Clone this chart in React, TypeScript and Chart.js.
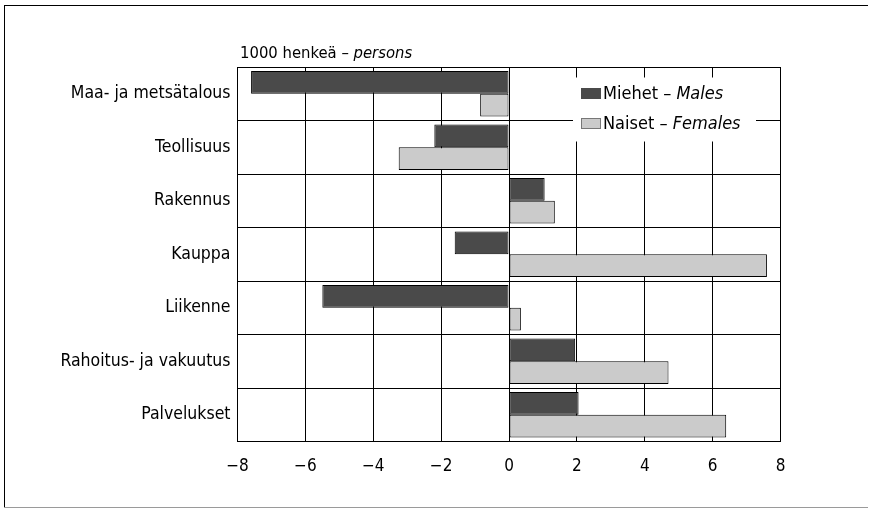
import React, { useEffect, useRef } from "react";
import { Chart, registerables } from "chart.js";

Chart.register(...registerables);

const categories = [
  "Maa- ja metsätalous",
  "Teollisuus",
  "Rakennus",
  "Kauppa",
  "Liikenne",
  "Rahoitus- ja vakuutus",
  "Palvelukset",
];
const males = [-7.6, -2.2, 1.05, -1.6, -5.5, 1.95, 2.05];
const females = [-0.85, -3.25, 1.35, 7.6, 0.35, 4.7, 6.4];
const xMin = -8;
const xMax = 8;
const xStep = 2;
const maleLabel = ["Miehet – ", "Males"];
const femaleLabel = ["Naiset – ", "Females"];
const unitLabel = ["1000 henkeä – ", "persons"];

const FONT = '"Liberation Sans Narrow", "Arial Narrow", "DejaVu Sans Condensed", sans-serif';
const DARK = "#4a4a4a";
const LIGHT = "#cbcbcb";

const framePlugin = {
  id: "frame",
  beforeDraw(chart: any) {
    const { ctx, width, height } = chart;
    ctx.save();
    ctx.fillStyle = "#fff";
    ctx.fillRect(0, 0, width, height);
    ctx.strokeStyle = "#000";
    ctx.lineWidth = 1;
    ctx.beginPath();
    ctx.moveTo(4.5, 5);
    ctx.lineTo(4.5, 508);
    ctx.moveTo(4, 5.5);
    ctx.lineTo(868, 5.5);
    ctx.stroke();
    ctx.strokeStyle = "#9a9a9a";
    ctx.beginPath();
    ctx.moveTo(4, 507.5);
    ctx.lineTo(868, 507.5);
    ctx.stroke();
    ctx.restore();
  },
};

function mixedText(ctx: CanvasRenderingContext2D, parts: string[], x: number, y: number, size: number) {
  ctx.font = `${size}px ${FONT}`;
  ctx.fillText(parts[0], x, y);
  const w = ctx.measureText(parts[0]).width;
  ctx.font = `italic ${size}px ${FONT}`;
  ctx.fillText(parts[1], x + w, y);
}

const legendPlugin = {
  id: "customLegend",
  afterDraw(chart: any) {
    const { ctx, chartArea } = chart;
    ctx.save();
    ctx.fillStyle = "#000";
    ctx.textBaseline = "alphabetic";
    ctx.textAlign = "left";
    mixedText(ctx, unitLabel, chartArea.left + 2.5, 58, 16.5);
    ctx.fillStyle = "#fff";
    ctx.fillRect(573, 77.5, 183, 64);
    ctx.fillStyle = DARK;
    ctx.fillRect(581, 88, 20, 11);
    ctx.fillStyle = LIGHT;
    ctx.fillRect(581, 118, 20, 11);
    ctx.strokeStyle = "#777";
    ctx.lineWidth = 1;
    ctx.strokeRect(581.5, 118.5, 19, 10);
    ctx.fillStyle = "#000";
    mixedText(ctx, maleLabel, 603, 99, 18);
    mixedText(ctx, femaleLabel, 603, 129, 18);
    ctx.restore();
  },
};

export default function App() {
  const ref = useRef<HTMLCanvasElement>(null);
  useEffect(() => {
    const canvas = ref.current!;
    const chart = new Chart(canvas, {
      type: "bar",
      data: {
        labels: categories,
        datasets: [
          {
            label: maleLabel.join(""),
            data: males,
            backgroundColor: DARK,
            borderColor: "#000",
            borderWidth: 1,
            borderSkipped: false,
            categoryPercentage: 0.85,
            barPercentage: 1,
          },
          {
            label: femaleLabel.join(""),
            data: females,
            backgroundColor: LIGHT,
            borderColor: "#000",
            borderWidth: 1,
            borderSkipped: false,
            categoryPercentage: 0.85,
            barPercentage: 1,
          },
        ],
      },
      options: {
        indexAxis: "y",
        responsive: false,
        animation: false,
        devicePixelRatio: 1,
        layout: { padding: { left: 0, top: 67, right: 90.5, bottom: 17.5 } },
        plugins: { legend: { display: false }, tooltip: { enabled: false }, title: { display: false } },
        scales: {
          x: {
            type: "linear",
            min: xMin,
            max: xMax,
            ticks: {
              stepSize: xStep,
              color: "#000",
              padding: 15,
              font: { family: FONT, size: 17 },
              callback: (v: any) => (Number(v) < 0 ? "−" + Math.abs(Number(v)) : String(v)),
            },
            grid: { color: "#000", lineWidth: 1, drawTicks: false },
            border: { display: true, color: "#000" },
            afterFit: (s: any) => {
              s.height = 50;
            },
          },
          y: {
            type: "category",
            ticks: { color: "#000", padding: 7, font: { family: FONT, size: 17.5 } },
            grid: { color: "#000", lineWidth: 1, drawTicks: false, offset: true },
            border: { display: true, color: "#000" },
            afterFit: (s: any) => {
              s.width = 237.5;
            },
          },
        },
      },
      plugins: [framePlugin, legendPlugin],
    } as any);
    return () => chart.destroy();
  }, []);
  return (
    <div style={{ position: "fixed", left: 0, top: 0, width: 871, height: 509 }}>
      <canvas ref={ref} width={871} height={509} style={{ display: "block", width: 871, height: 509 }} />
    </div>
  );
}
